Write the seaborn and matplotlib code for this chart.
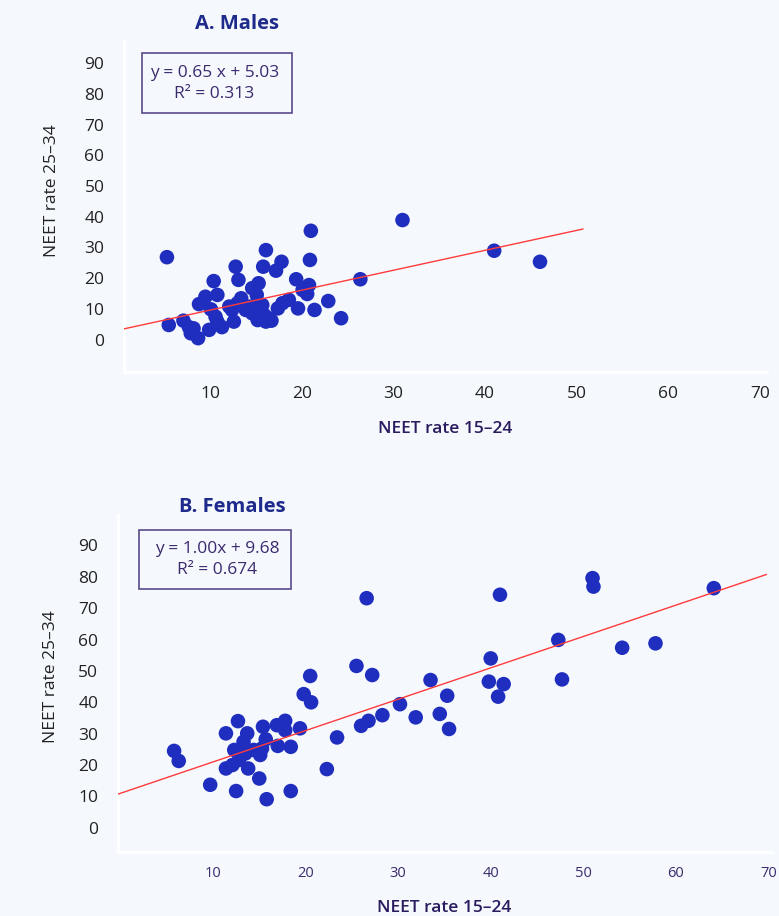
import matplotlib
matplotlib.use('Agg')
import matplotlib.pyplot as plt
import matplotlib.transforms as mtransforms
from matplotlib.patches import Rectangle
import seaborn as sns
import pandas as pd

# Males: NEET rate 15-24 (x) vs NEET rate 25-34 (y)
males_x = [5.3, 5.5, 7.1, 7.7, 8.2, 7.9, 8.7, 9.9, 11.3, 8.8, 9.5, 10.4, 10.8, 10.1,
           10.6, 10.8, 12.8, 13.1, 12.1, 12.6, 13.4, 12.4, 14.6, 15.3, 15.1, 14.4,
           14.6, 15.2, 16.1, 15.7, 16.7, 16.1, 15.8, 17.8, 17.2, 17.4, 17.9, 18.6,
           19.4, 19.6, 20.1, 20.8, 20.6, 20.9, 21.4, 22.9, 24.3, 26.4, 21.0, 31.0,
           41.0, 46.0, 13.9, 13.0, 15.9, 16.4]
males_y = [28.8, 6.7, 8.1, 6.0, 5.6, 4.0, 2.4, 5.1, 6.0, 13.5, 15.9, 21.0, 16.5, 11.8,
           9.4, 7.8, 25.7, 21.4, 12.7, 7.8, 15.4, 11.6, 18.7, 20.3, 16.5, 12.7,
           10.5, 8.3, 7.8, 13.2, 8.1, 31.1, 25.7, 27.3, 24.4, 12.1, 13.8, 14.9,
           21.6, 12.1, 18.1, 19.7, 16.8, 27.9, 11.6, 14.5, 8.9, 21.6, 37.4, 40.9,
           30.9, 27.3, 11.6, 13.8, 10.0, 8.9]

# Females
females_x = [5.8, 6.3, 9.7, 12.5, 15.8, 18.4, 15.0, 11.4, 12.7, 13.7, 13.3, 12.3, 11.4,
             12.1, 12.8, 13.8, 13.5, 14.4, 15.1, 15.4, 15.7, 15.3, 16.9, 17.8, 17.8,
             17.0, 18.4, 19.4, 19.8, 20.6, 22.3, 20.5, 25.5, 27.2, 26.0, 26.8, 23.4,
             26.6, 28.3, 30.2, 31.9, 33.5, 34.5, 35.3, 35.5, 40.0, 39.8, 41.4, 40.8,
             41.0, 47.3, 47.7, 51.0, 51.1, 54.2, 57.8, 64.1]
females_y = [23.2, 20.0, 12.4, 10.4, 7.8, 10.4, 14.4, 28.8, 32.7, 28.8, 26.1, 23.5, 17.6,
             18.7, 20.3, 17.6, 22.4, 23.5, 21.9, 30.9, 26.9, 24.0, 31.4, 32.8, 29.8,
             24.8, 24.5, 30.4, 41.3, 38.7, 17.4, 47.1, 50.3, 47.4, 31.2, 32.8, 27.5,
             71.9, 34.6, 38.1, 33.9, 45.8, 35.0, 40.8, 30.2, 52.7, 45.3, 44.5, 40.5,
             73.0, 58.6, 46.0, 78.3, 75.6, 56.1, 57.5, 75.1]

# regression results shown in the boxes
slopes = [0.65, 1.00]
intercepts = [5.03, 9.68]
fit_labels = ["y = 0.65 x + 5.03\nR² = 0.313", "y = 1.00x + 9.68\nR² = 0.674"]
titles = ["A. Males", "B. Females"]
line_ends = [50.7, 69.8]

bg = '#F5F9FD'
dot = '#1F2EBF'
purple = '#3B2A6E'
navy = '#1E2A8C'

sns.set_theme(style="white")
plt.rcParams['font.family'] = ['Open Sans', 'DejaVu Sans']

fig = plt.figure(figsize=(7.79, 9.16), dpi=100, facecolor=bg)

# layout, figure fractions
rects = [[0.159, 0.594, 0.826, 0.362], [0.151, 0.070, 0.839, 0.368]]
xlims = [(0.6, 70.8), (-0.3, 70.3)]
ylims = [(-8.6, 99.5), (-9.0, 98.5)]
title_pos = [(0.304, 0.974), (0.298, 0.446)]
boxes = [(0.182, 0.877, 0.193, 0.065), (0.178, 0.357, 0.196, 0.064)]
box_text = [(0.275, 0.909), (0.279, 0.389)]
ylabel_pos = [(-0.099, 0.548), (-0.089, 0.519)]
ytick_shift = [6, -4]  # pixels
xtick_colors = ['#222222', purple]
xtick_sizes = [12.5, 10.5]

datasets = [pd.DataFrame({'x': males_x, 'y': males_y}),
            pd.DataFrame({'x': females_x, 'y': females_y})]

for i, df in enumerate(datasets):
    ax = fig.add_axes(rects[i])
    ax.set_facecolor(bg)
    sns.scatterplot(data=df, x='x', y='y', ax=ax, color=dot, s=110,
                    edgecolor='none', linewidth=0, zorder=3)

    # fitted line
    x0 = xlims[i][0]
    x1 = line_ends[i]
    ax.plot([x0, x1], [slopes[i] * x0 + intercepts[i], slopes[i] * x1 + intercepts[i]],
            color='#FF3B3B', lw=1.0, zorder=4)

    ax.set_xlim(*xlims[i])
    ax.set_ylim(*ylims[i])
    ax.set_xticks(range(10, 71, 10))
    ax.set_yticks(range(0, 91, 10))

    for side in ['top', 'right']:
        ax.spines[side].set_visible(False)
    for side in ['left', 'bottom']:
        ax.spines[side].set_color('white')
        ax.spines[side].set_linewidth(2)

    ax.tick_params(axis='y', length=0, pad=14, labelsize=12.5, labelcolor='#222222')
    ax.tick_params(axis='x', length=0, pad=10, labelsize=xtick_sizes[i],
                   labelcolor=xtick_colors[i])
    shift = mtransforms.ScaledTranslation(0, ytick_shift[i] / 100, fig.dpi_scale_trans)
    for lab in ax.get_yticklabels():
        lab.set_transform(lab.get_transform() + shift)

    ax.set_xlabel('NEET rate 15–24', color='#2A1A5E', fontsize=12.5,
                  fontweight='semibold', labelpad=14)
    ax.set_ylabel('NEET rate 25–34', color='#222222', fontsize=12.5)
    ax.yaxis.set_label_coords(*ylabel_pos[i])

    fig.text(title_pos[i][0], title_pos[i][1], titles[i], color=navy, fontsize=14.5,
             fontweight='bold', ha='center', va='center')

    bx, by, bw, bh = boxes[i]
    fig.patches.append(Rectangle((bx, by), bw, bh, transform=fig.transFigure,
                                 facecolor=bg, edgecolor='#5B4A8A', linewidth=1.2,
                                 zorder=5))
    fig.text(box_text[i][0], box_text[i][1], fit_labels[i], color=purple, fontsize=12.5,
             ha='center', va='center', linespacing=1.4, zorder=6)

fig.savefig('out.png', dpi=100, facecolor=bg)
